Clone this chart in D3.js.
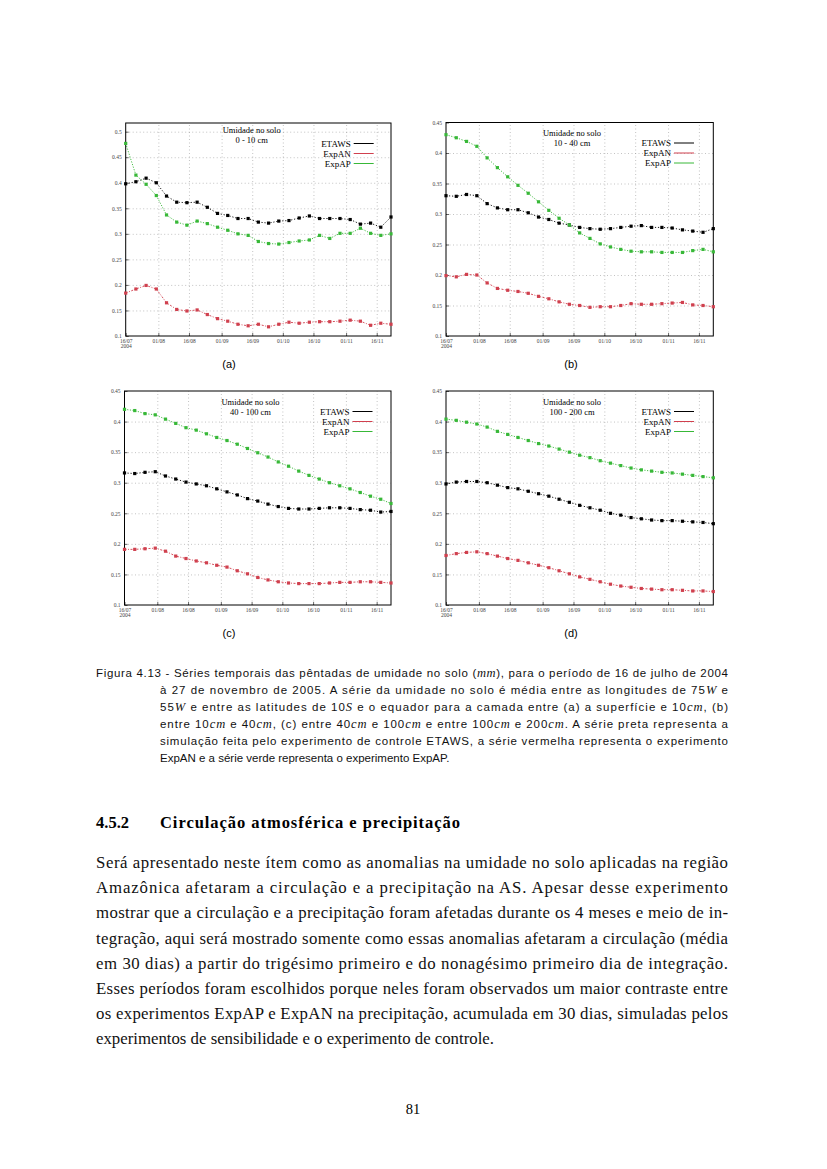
<!DOCTYPE html>
<html><head><meta charset="utf-8">
<script src="https://cdn.jsdelivr.net/npm/d3@7"></script>
<style>body{margin:0;background:#fff}</style>
</head><body><div id="page"></div>
<script>
// pentadas (16/07/2004 a 23/11/2004)
const pentadas = ["2004-07-16","2004-07-21","2004-07-26","2004-07-31","2004-08-05","2004-08-10","2004-08-15","2004-08-20","2004-08-25","2004-08-30","2004-09-04","2004-09-09","2004-09-14","2004-09-19","2004-09-24","2004-09-29","2004-10-04","2004-10-09","2004-10-14","2004-10-19","2004-10-24","2004-10-29","2004-11-03","2004-11-08","2004-11-13","2004-11-18","2004-11-23"];
const xTickDates = ["2004-07-16","2004-08-01","2004-08-16","2004-09-01","2004-09-16","2004-10-01","2004-10-16","2004-11-01","2004-11-16"];
const xTickLabels = ["16/07","01/08","16/08","01/09","16/09","01/10","16/10","01/11","16/11"];
const yTicksA = [0.1,0.15,0.2,0.25,0.3,0.35,0.4,0.45,0.5];
const yTicksB = [0.1,0.15,0.2,0.25,0.3,0.35,0.4,0.45];
const series = ["ETAWS","ExpAN","ExpAP"];
const cores = ["#000000","#d0404e","#38b838"];

// (a) 0-10 cm
const etawsA = [0.398,0.402,0.409,0.400,0.374,0.362,0.361,0.362,0.352,0.340,0.336,0.330,0.330,0.323,0.321,0.325,0.326,0.331,0.335,0.330,0.330,0.330,0.328,0.319,0.321,0.313,0.333];
const expanA = [0.184,0.192,0.199,0.192,0.165,0.152,0.149,0.151,0.142,0.134,0.129,0.123,0.120,0.123,0.118,0.123,0.127,0.125,0.127,0.128,0.128,0.129,0.131,0.129,0.121,0.125,0.123];
const expapA = [0.477,0.415,0.397,0.375,0.337,0.323,0.317,0.325,0.320,0.313,0.307,0.300,0.297,0.285,0.281,0.280,0.283,0.286,0.288,0.297,0.291,0.301,0.301,0.311,0.301,0.297,0.300];
// (b) 10-40 cm
const etawsB = [0.330,0.329,0.332,0.330,0.317,0.310,0.307,0.307,0.302,0.295,0.291,0.285,0.282,0.278,0.276,0.275,0.276,0.278,0.280,0.281,0.278,0.278,0.277,0.274,0.272,0.270,0.276];
const expanB = [0.199,0.197,0.201,0.200,0.187,0.178,0.175,0.173,0.170,0.165,0.161,0.156,0.152,0.150,0.147,0.148,0.148,0.150,0.153,0.152,0.152,0.153,0.154,0.155,0.151,0.150,0.148];
const expapB = [0.430,0.425,0.419,0.411,0.392,0.376,0.361,0.347,0.334,0.320,0.306,0.293,0.282,0.269,0.260,0.251,0.246,0.242,0.239,0.238,0.238,0.237,0.237,0.237,0.240,0.242,0.238];
// (c) 40-100 cm
const etawsC = [0.316,0.315,0.317,0.318,0.311,0.306,0.301,0.298,0.295,0.290,0.285,0.280,0.274,0.270,0.265,0.261,0.258,0.257,0.257,0.258,0.259,0.259,0.258,0.256,0.255,0.252,0.253];
const expanC = [0.191,0.191,0.192,0.193,0.188,0.180,0.176,0.172,0.169,0.165,0.162,0.156,0.151,0.145,0.141,0.138,0.136,0.135,0.135,0.135,0.136,0.137,0.137,0.138,0.138,0.137,0.136];
const expapC = [0.420,0.418,0.413,0.411,0.404,0.397,0.390,0.386,0.380,0.374,0.369,0.363,0.356,0.349,0.342,0.334,0.327,0.319,0.312,0.306,0.300,0.295,0.290,0.284,0.278,0.273,0.266];
// (d) 100-200 cm
const etawsD = [0.298,0.301,0.302,0.302,0.300,0.296,0.292,0.290,0.286,0.282,0.278,0.273,0.268,0.263,0.259,0.255,0.250,0.247,0.243,0.241,0.239,0.238,0.238,0.237,0.236,0.235,0.233];
const expanD = [0.181,0.184,0.186,0.187,0.184,0.180,0.176,0.173,0.169,0.165,0.161,0.156,0.151,0.146,0.142,0.138,0.134,0.131,0.129,0.127,0.126,0.125,0.125,0.124,0.123,0.123,0.122];
const expapD = [0.404,0.402,0.399,0.396,0.391,0.384,0.379,0.374,0.369,0.364,0.360,0.355,0.350,0.345,0.341,0.336,0.332,0.328,0.324,0.321,0.319,0.317,0.316,0.314,0.312,0.310,0.308];

const camadas = ["0 - 10 cm","10 - 40 cm","40 - 100 cm","100 - 200 cm"];
const letras = ["(a)","(b)","(c)","(d)"];

const parse = d3.timeParse("%Y-%m-%d");

// posicao dos quatro graficos na pagina
const paineis = [
  {x0:125.7,x1:391,y0:123,y1:336,top:0.517,ticks:yTicksA,dados:[etawsA,expanA,expapA],tdy:7,lx:229},
  {x0:446,x1:713.3,y0:122.5,y1:336,top:0.45,ticks:yTicksB,dados:[etawsB,expanB,expapB],tdy:11,lx:571},
  {x0:124.5,x1:391,y0:391,y1:605,top:0.45,ticks:yTicksB,dados:[etawsC,expanC,expapC],tdy:11,lx:229},
  {x0:446,x1:713.3,y0:391,y1:605,top:0.45,ticks:yTicksB,dados:[etawsD,expanD,expapD],tdy:11,lx:571}
];

const svg = d3.select('#page').append('svg').attr('width',827).attr('height',1169)
  .style('background','#fff');

paineis.forEach((p,i)=>{
  const x = d3.scaleTime().domain([parse(pentadas[0]),parse(pentadas[pentadas.length-1])]).range([p.x0,p.x1]);
  const y = d3.scaleLinear().domain([0.1,p.top]).range([p.y1,p.y0]);
  const g = svg.append('g');
  const w = p.x1-p.x0, h = p.y1-p.y0;

  // grade
  g.append('g').attr('transform',`translate(0,${p.y1})`)
    .call(d3.axisBottom(x).tickValues(xTickDates.slice(1).map(parse)).tickSize(-h).tickFormat(''))
    .call(s=>{s.select('.domain').remove();s.selectAll('line').attr('stroke','#9a9a9a').attr('stroke-width',0.6).attr('stroke-dasharray','1,2.5');});
  g.append('g').attr('transform',`translate(${p.x0},0)`)
    .call(d3.axisLeft(y).tickValues(p.ticks.slice(1).filter(t=>t<p.top-0.001)).tickSize(-w).tickFormat(''))
    .call(s=>{s.select('.domain').remove();s.selectAll('line').attr('stroke','#9a9a9a').attr('stroke-width',0.6).attr('stroke-dasharray','1,2.5');});

  // eixos
  const ax = g.append('g').attr('transform',`translate(0,${p.y1})`)
    .call(d3.axisBottom(x).tickValues(xTickDates.map(parse)).tickSizeInner(-3).tickSizeOuter(0).tickPadding(3)
      .tickFormat((d,k)=>xTickLabels[k]));
  ax.select('.domain').remove();
  ax.selectAll('text').attr('font-family','Liberation Serif').attr('font-size',5.5).attr('fill','#444');
  ax.selectAll('line').attr('stroke','#000').attr('stroke-width',0.6);
  ax.selectAll('.tick').filter((d,k)=>k===0).select('text')
    .append('tspan').attr('x',0).attr('dy','1em').text('2004');

  const ay = g.append('g').attr('transform',`translate(${p.x0},0)`)
    .call(d3.axisLeft(y).tickValues(p.ticks).tickSizeInner(-3).tickSizeOuter(0).tickPadding(4)
      .tickFormat(d=>String(+d.toFixed(2))));
  ay.select('.domain').remove();
  ay.selectAll('text').attr('font-family','Liberation Serif').attr('font-size',5.5).attr('fill','#444');
  ay.selectAll('line').attr('stroke','#000').attr('stroke-width',0.6);

  g.append('rect').attr('x',p.x0).attr('y',p.y0).attr('width',w).attr('height',h)
    .attr('fill','none').attr('stroke','#000').attr('stroke-width',1);

  // series
  p.dados.forEach((vals,s)=>{
    const pts = vals.map((v,k)=>({d:parse(pentadas[k]),v:v}));
    g.append('path').datum(pts)
      .attr('fill','none').attr('stroke',cores[s]).attr('stroke-width',0.9)
      .attr('stroke-dasharray', s===0 ? '1.2,1.8' : (s===1 ? '2,1.5,1,1.5' : '1.2,1.5'))
      .attr('d',d3.line().x(a=>x(a.d)).y(a=>y(a.v)));
    g.selectAll(null).data(pts).enter().append('rect')
      .attr('x',a=>x(a.d)-1.6).attr('y',a=>y(a.v)-1.6)
      .attr('width',3.2).attr('height',3.2).attr('fill',cores[s]);
  });

  // titulo
  const cx = p.x0+126;
  g.append('text').attr('x',cx).attr('y',p.y0+p.tdy+2.5).attr('text-anchor','middle')
    .attr('font-family','Liberation Serif').attr('font-size',8.5).text('Umidade no solo');
  g.append('text').attr('x',cx).attr('y',p.y0+p.tdy+12.5).attr('text-anchor','middle')
    .attr('font-family','Liberation Serif').attr('font-size',8.5).text(camadas[i]);

  // legenda
  const lx = p.x0 + 225;
  series.forEach((nome,s)=>{
    const ly = p.y0+20.5+s*10;
    g.append('text').attr('x',lx).attr('y',ly+3).attr('text-anchor','end')
      .attr('font-family','Liberation Serif').attr('font-size',9).text(nome);
    g.append('line').attr('x1',lx+3).attr('x2',lx+23).attr('y1',ly).attr('y2',ly)
      .attr('stroke',cores[s]).attr('stroke-width',1);
  });

  svg.append('text').attr('x',p.lx).attr('y',p.y1+32)
    .attr('text-anchor','middle').attr('font-family','Liberation Sans').attr('font-size',11)
    .text(letras[i]);
});

// legenda da figura
const leg = [
  {x:96,j:true,t:[["Figura 4.13 - Séries temporais das pêntadas de umidade no solo ("],["mm",1],["), para o período de 16 de julho de 2004"]]},
  {x:160,j:true,t:[["à 27 de novembro de 2005. A série da umidade no solo é média entre as longitudes de 75"],["W",1],[" e"]]},
  {x:160,j:true,t:[["55"],["W",1],[" e entre as latitudes de 10"],["S",1],[" e o equador para a camada entre (a) a superfície e 10"],["cm",1],[", (b)"]]},
  {x:160,j:true,t:[["entre 10"],["cm",1],[" e 40"],["cm",1],[", (c) entre 40"],["cm",1],[" e 100"],["cm",1],[" e entre 100"],["cm",1],[" e 200"],["cm",1],[". A série preta representa a"]]},
  {x:160,j:true,t:[["simulação feita pelo experimento de controle ETAWS, a série vermelha representa o experimento"]]},
  {x:160,j:false,t:[["ExpAN e a série verde representa o experimento ExpAP."]]}
];
leg.forEach((l,k)=>{
  const t = svg.append('text').attr('x',l.x).attr('y',677+k*17)
    .attr('font-family','Liberation Sans').attr('font-size',11.5).attr('fill','#111');
  if(l.j) t.attr('textLength',728-l.x).attr('lengthAdjust','spacing');
  l.t.forEach(seg=>{
    const sp = t.append('tspan').text(seg[0]);
    if(seg[1]) sp.attr('font-family','Liberation Serif').attr('font-style','italic').attr('font-size',12.5);
  });
});

svg.append('text').attr('x',96).attr('y',828).attr('font-family','Liberation Serif')
  .attr('font-weight','bold').attr('font-size',16.5).text('4.5.2');
svg.append('text').attr('x',160).attr('y',828).attr('font-family','Liberation Serif')
  .attr('font-weight','bold').attr('font-size',16.5).attr('textLength',300).attr('lengthAdjust','spacing')
  .text('Circulação atmosférica e precipitação');

const corpo = [
  "Será apresentado neste ítem como as anomalias na umidade no solo aplicadas na região",
  "Amazônica afetaram a circulação e a precipitação na AS. Apesar desse experimento",
  "mostrar que a circulação e a precipitação foram afetadas durante os 4 meses e meio de in-",
  "tegração, aqui será mostrado somente como essas anomalias afetaram a circulação (média",
  "em 30 dias) a partir do trigésimo primeiro e do nonagésimo primeiro dia de integração.",
  "Esses períodos foram escolhidos porque neles foram observados um maior contraste entre",
  "os experimentos ExpAP e ExpAN na precipitação, acumulada em 30 dias, simuladas pelos",
  "experimentos de sensibilidade e o experimento de controle."
];
corpo.forEach((linha,k)=>{
  const t = svg.append('text').attr('x',96).attr('y',868+k*25.2)
    .attr('font-family','Liberation Serif').attr('font-size',16.8).attr('fill','#111').text(linha);
  if(k<corpo.length-1) t.attr('textLength',632).attr('lengthAdjust','spacing');
});

svg.append('text').attr('x',413).attr('y',1114).attr('text-anchor','middle')
  .attr('font-family','Liberation Serif').attr('font-size',14.5).text('81');
</script></body></html>
